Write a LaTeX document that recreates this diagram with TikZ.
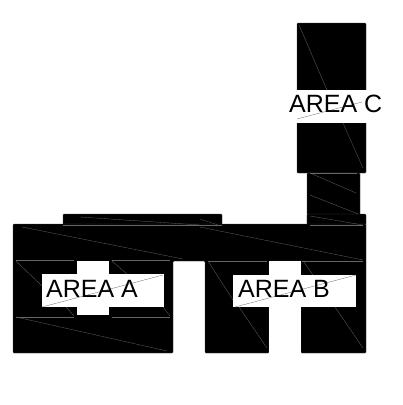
\documentclass[tikz,border=0pt]{standalone}
\usepackage{fontspec}
\setmainfont{Liberation Sans}
\tikzset{
  solid part/.style={fill=black, draw=black!75, line width=0.4pt, rounded corners=1pt},
  cutout/.style={fill=white},
  mesh/.style={draw=black!60, line width=0.3pt},
  arealabel/.style={font=\fontsize{25}{25}\selectfont, anchor=base west, inner sep=0pt, text=black},
}
\begin{document}
\begin{tikzpicture}[x=1pt,y=-1pt]
\useasboundingbox (0,0) rectangle (403,405);
% upper block and neck
\draw[solid part] (297,23) rectangle (366,173);
\draw[solid part] (307,173) rectangle (360,225);
% tabs on the beam
\draw[solid part] (63,214) rectangle (222,226);
\draw[solid part] (307,214) rectangle (366,226);
% beam and legs
\draw[solid part] (13,224) -- (366,224) -- (366,353) -- (301,353) -- (301,261) -- (269,261) -- (269,353) -- (205,353) -- (205,261) -- (173,261) -- (173,353) -- (13,353) -- cycle;
% cut-outs
\fill[cutout] (77,261) rectangle (109,315);
\fill[cutout] (41.5,274) rectangle (164,307);
\fill[cutout] (269,261) rectangle (301,353);
\fill[cutout] (233,275) rectangle (356,307);
\fill[cutout] (285,90) rectangle (383,123);
% mesh lines, beam
\draw[mesh] (22,227) -- (183,259);
\draw[mesh] (200,227) -- (363,260);
\draw[mesh] (80,217) -- (200,225);
\draw[mesh] (200,219) -- (218,225);
\draw[mesh] (63,225) -- (222,225);
\draw[mesh] (310,216) -- (363,225);
\draw[mesh] (310,225) -- (363,225);
% mesh lines, area a
\draw[mesh] (16,260) -- (74,260);
\draw[mesh] (112,260) -- (170,260);
\draw[mesh] (16,261) -- (42,286);
\draw[mesh] (112,261) -- (127,274);
\draw[mesh] (42,307) -- (163,275);
\draw[mesh] (66,307) -- (74,316);
\draw[mesh] (163,307) -- (170,316);
\draw[mesh] (16,317) -- (74,317);
\draw[mesh] (112,317) -- (170,317);
\draw[mesh] (16,317) -- (167,351);
% mesh lines, area b
\draw[mesh] (208,261) -- (267,261);
\draw[mesh] (208,261) -- (233,300);
\draw[mesh] (239,307) -- (267,348);
\draw[mesh] (235,307) -- (356,275);
\draw[mesh] (302,261) -- (363,261);
\draw[mesh] (304,262) -- (313,275);
\draw[mesh] (335,307) -- (363,348);
% mesh lines, area c
\draw[mesh] (299,25) -- (327,90);
\draw[mesh] (343,123) -- (363,168);
\draw[mesh] (297,119) -- (362,102);
\draw[mesh] (310,173) -- (357,173);
\draw[mesh] (310,173) -- (356,193);
\draw[mesh] (310,195) -- (358,214);
% labels
\node[arealabel] (areaA) at (46,297) {AREA A};
\node[arealabel] (areaB) at (238,297) {AREA B};
\node[arealabel] (areaC) at (289,112) {AREA C};
\end{tikzpicture}
\end{document}
